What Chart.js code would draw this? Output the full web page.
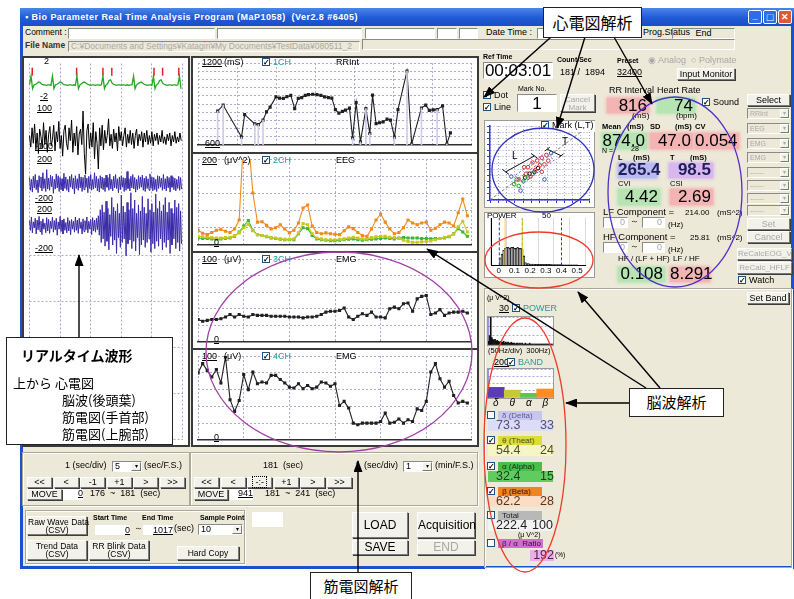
<!DOCTYPE html>
<html>
<head>
<meta charset="utf-8">
<script src="https://cdn.jsdelivr.net/npm/chart.js@4.4.1/dist/chart.umd.min.js"></script>
<style>
body{margin:0;width:794px;height:599px;background:#fff;position:relative;overflow:hidden;font-family:"Liberation Sans",Arial,sans-serif;font-size:9px;color:#000}
.a{position:absolute;box-sizing:border-box;white-space:nowrap}
.btn{background:#F3F2EA;border:1px solid;border-color:#fff #7A7A7A #7A7A7A #fff;box-shadow:1px 1px 0 #3C3C3C;text-align:center}
.fld{background:#fff;border:1px solid;border-color:#8A8A8A #fff #fff #8A8A8A}
.sunk{border:1px solid;border-color:#8A8A8A #fff #fff #8A8A8A}
.frame{border:1px solid #ACA899;box-shadow:1px 1px 0 #fff inset,1px 1px 0 #fff}
.gray{color:#A8A8A8}
.ul{text-decoration:underline}
.cb{display:inline-block;width:8px;height:8px;border:1px solid #1C5180;background:#fff;font-size:8px;line-height:8px;text-align:center;vertical-align:-1px;margin-right:3px;font-weight:bold;box-sizing:border-box;overflow:hidden}
.jp{font-family:"Noto Sans CJK JP",sans-serif}
canvas{position:absolute}
</style>
</head>
<body>
<script>
// ---- data ----
// left real-time waveforms (5 s window)
const ecgWave = [0.1,0.85,-0.3,0.05,0.1,0.2,0.3,0.25,0.1,0.05,
  0.05,0,0.05,0.05,0,0.85,-0.3,0.05,0.1,0.2,
  0.3,0.25,0.1,0.05,0.05,0,0.05,0.05,0,0.05,
  0,0.85,-0.3,0.05,0.15,0.25,0.3,0.2,0.1,0.05,
  0,0.05,0.05,0,0.05,0.05,0,0.05,0.85,-0.3,
  0.05,0.15,0.45,0.5,0.2,0.1,0.05,0,0.05,0.05,
  0,0.05,0.05,0,0.05,0,0.05,0.05,0.85,-0.3,
  0.05,0.15,0.25,0.3,0.2,0.1,0.05,0,0.05,0.05,
  0,0.85,-0.3,0.05,0.15,0.45,0.5,0.2,0.1,0.05,
  0,0.05,0.05,0,0.05,0.05,0,0.05,0.85,-0.3];
const ecgMarkTime = [0.09,1.54,2.4,2.69,4.07,4.35,4.88];
const ecgMarkLevel = [1.25,1.25,1.25,1.25,1.25,1.25,1.25];
const eegWave = [-10,-55,20,-40,35,-65,0,-80,15,-15,-60,40,-45,10,-75,-5,25,-50,-25,30,
  -70,5,-35,45,-60,-10,-90,10,30,-40,-65,20,-30,50,-75,0,-50,25,-85,-5,
  15,-45,85,-80,-160,10,35,-60,0,-55,40,-100,5,-40,-140,20,-50,30,-65,10,
  -40,-10,55,-50,-5,-60,15,-35,0,-70,25,-30,5,-50,-10,20,-55,-5,-40,10,
  -45,0,-60,-10,15,-50,-5,-30,5,-55,0,-35,10,-45,-10,-40,5,-50,-5,-30,
  0,-45,-10,-35,10,-40,-15,-45,-5,-30,0,-50,-10,-35,5,-40,-15,-35,0,-30];
const emgWristWave = [45,-60,30,-75,55,-40,70,-55,25,-80,60,-35,50,-65,85,-45,35,-70,110,-50,
  40,-60,65,-30,55,-85,30,-50,75,-40,60,-70,45,-55,35,-65,80,-45,50,-60,
  30,-75,55,-35,70,-50,40,-90,60,-45,35,-60,75,-40,50,-70,45,-55,65,-35,
  40,-80,55,-45,70,-60,30,-50,85,-40,55,-65,35,-75,60,-45,50,-55,40,-70,
  65,-35,45,-60,75,-50,30,-65,55,-40,70,-45,35,-80,50,-55,60,-35,45,-70,
  40,-60,95,-45,35,-65,55,-40,70,-50,45,-75,30,-55,60,-45,50,-35,65,-60,
  40,-70,55,-45,35,-60,75,-40,50,-65,45,-55,30,-70,60,-45,55,-35,40,-60,
  70,-50,35,-65,55,-40,45,-75,60,-35,50,-55,40,-65,30,-45,55,-60,45,-50];
const emgArmWave = [90,10,120,-10,80,30,110,-20,95,15,125,0,85,-25,105,20,70,-10,115,5,
  100,-15,85,25,120,-5,90,15,110,-30,80,20,125,0,95,-20,105,10,75,-10,
  115,5,90,-25,100,20,85,-5,120,10,95,-15,110,25,80,-20,105,0,90,15,
  120,-10,85,20,100,-25,115,5,95,-5,110,15,130,-30,180,-90,220,-60,160,-120,
  250,-80,190,-150,140,-40,280,-110,200,-70,170,-180,230,-50,150,-130,300,-90,210,-60,
  160,-200,240,-100,180,-70,320,-140,190,-80,260,-160,150,-50,220,-190,170,-110,290,-70,
  200,-130,150,-90,270,-60,180,-170,230,-100,160,-140,310,-80,190,-120,250,-60,170,-150,
  220,-90,280,-130,160,-70,240,-180,190,-110,150,-60,260,-140,200,-90,230,-160,170,-100];

// trend window 181-241 s (x in seconds from 181)
const rrTime = [0,1.4,6.1,6.9,9.5,10.4,11.6,12.5,13.4,14.9,15.8,16.8,17.7,18.7,19.7,20.6,21.5,22.4,23.2,24.3,
  25.4,26.4,27.3,28.3,29.2,30.1,31.0,31.9,32.7,33.7,34.5,35.4,36.5,37.9,38.9,39.6,40.5,41.4,42.3,43.3,
  44.2,45.2,46.1,48.4,49.6,52.1,53.2,54.1,55.1,56.1,57.5,58.6,59.5];
const rrInterval = [848,892,657,822,754,749,782,842,877,952,943,941,954,963,866,941,947,963,969,971,
  969,963,952,947,943,859,833,846,855,870,650,910,622,866,683,965,756,763,769,789,
  782,657,859,1141,607,870,892,853,857,859,886,607,688];
const rrBlinkIndex = [0,1,2,4,5,6,30,32,33,34,41,43,44,45,49,51];
const eegBeta = [34,27,24,29,34,36,32,29,37,58,260,250,121,53,54,46,37,40,47,37,
  28,34,51,86,93,44,29,26,28,26,25,24,33,42,38,29,22,20,37,58,
  72,53,37,26,29,40,58,51,47,51,53,34,39,47,53,51,44,75,107,68];
const eegTheta = [20,19,18,17,16,16,17,18,22,28,40,48,33,24,22,20,17,16,14,13,
  13,14,28,50,47,26,16,14,12,12,12,13,14,16,18,16,14,14,17,19,
  20,20,18,17,15,11,8,6,6,7,8,9,12,15,18,20,25,42,55,30];
const eegAlpha = [16,15,15,14,13,14,15,16,20,30,44,57,34,24,22,19,16,15,13,12,
  12,12,26,40,38,22,14,12,11,10,10,11,12,13,14,12,11,12,13,14,
  15,16,15,14,16,17,16,16,16,15,15,14,15,15,16,19,26,38,30,20];
const emgCh3 = [27,25,26,27,27,28,30,33,30,33,31,30,33,32,32,32,31,31,31,31,
  30,30,30,29,30,30,31,33,36,37,37,38,41,30,27,31,34,32,36,30,
  30,29,40,42,40,46,47,37,52,55,56,33,35,39,32,35,36,36,37,35];
const emgCh4 = [80,91,83,75,84,68,99,48,34,47,78,60,81,67,69,68,77,77,72,68,
  63,62,67,61,65,61,63,69,68,64,67,41,46,38,20,18,20,20,20,20,
  22,32,20,21,25,20,24,22,37,35,46,81,91,73,63,70,53,44,46,44];

// Lorenz plot (RR n, RR n+1) in ms
const lorenzRedX = [830,858,886,914,930,874,902,818,942,846,774,914,953,807];
const lorenzRedY = [866,904,919,942,889,843,881,813,965,790,767,828,919,866];
const lorenzGreenX = [746,774,802,830,858,762];
const lorenzGreenY = [729,714,752,782,813,767];
const lorenzBlueX = [729,970,785,930];
const lorenzBlueY = [790,980,676,767];
const lorenzBlackX = [841,869,813,891];
const lorenzBlackY = [813,828,782,858];
const identityLine = [600,1200];
const spreadBoxX = [806,990,934,750,806];
const spreadBoxY = [740,924,980,796,740];
const ltMarkX = [695,869,null,675,715,null,849,889,null,947,1031,null,932,962,null,1016,1046];
const ltMarkY = [828,957,null,848,808,null,977,937,null,1012,959,null,997,1027,null,944,974];

// HRV power spectrum
const hrvFreq = [0.01,0.02,0.03,0.04,0.05,0.06,0.07,0.08,0.09,0.10,0.11,0.12,0.13,0.14,0.15,0.16,0.17,0.18,0.19,0.20,
  0.21,0.22,0.23,0.24,0.25,0.26,0.27,0.28,0.29,0.30,0.31,0.32,0.33,0.34,0.35,0.36,0.37,0.38,0.39,0.40,
  0.41,0.42,0.43,0.44,0.45,0.46,0.47,0.48,0.49,0.50];
const hrvPower = [8,12,16,18,19,19,18,19,19,18,18,19,18,18,17,10,3,2,2,1.5,
  1.5,1.5,1.2,1.2,1.2,1,1,1,1,1,1,1,1,0.8,0.8,0.8,0.8,0.8,0.8,0.8,
  0.7,0.7,0.7,0.7,0.7,0.7,0.7,0.7,0.7,0.7];
const lfBandEdges = [0.04,0.15];
const hfBandEdges = [0.003,0.15,0.4];

// EEG spectrum 0-300 Hz, 5 Hz bins
const eegSpectrum = [4,10,30,8,6,5,6,4,5,4,3,4,3,3,4,2,3,2,3,2,2,3,2,2,2,1,2,2,1,2,
  1,2,1,1,2,1,1,1,2,1,1,1,1,1,1,1,1,1,1,1,1,1,1,1,1,1,1,1,1,1];

// EEG bands
const bandNames = ["δ","θ","α","β"];
const bandPower = [73.3,54.4,32.4,62.2];
const bandColors = ["#5A3CB4","#C8C832","#55CC44","#FF8C1E"];

// ---- helpers ----
function put(x, y, w, h, cls, html, css) {
  const d = document.createElement("div");
  d.className = "a " + (cls || "");
  let s = `left:${x}px;top:${y}px;`;
  if (w) s += `width:${w}px;`;
  if (h) s += `height:${h}px;line-height:${h - 2}px;`;
  d.style.cssText = s + (css || "");
  if (html) d.innerHTML = html;
  document.body.appendChild(d);
  return d;
}
const cb = on => `<span class="cb">${on ? "✓" : ""}</span>`;
function vbox(x, y, w, h, bg, text, css) {
  return put(x, y, w, h, "", text, `background:${bg};box-shadow:0 0 3px 1px ${bg};text-align:right;padding-right:2px;` + (css || ""));
}
function makeCanvas(x, y, w, h) {
  const c = document.createElement("canvas");
  c.width = w; c.height = h;
  c.style.cssText = `left:${x}px;top:${y}px;width:${w}px;height:${h}px`;
  document.body.appendChild(c);
  return c.getContext("2d");
}
const gridColor = "#A9A9D6";
function plainScale(min, max, step, showGrid) {
  return {
    type: "linear", min, max,
    ticks: { display: false, stepSize: step },
    grid: { display: showGrid, color: gridColor, drawTicks: false },
    border: { display: false, dash: [2, 2] }
  };
}
function baseOptions(scales) {
  return {
    responsive: false,
    animation: false,
    layout: { padding: 0 },
    plugins: { legend: { display: false }, tooltip: { enabled: false } },
    scales
  };
}
const xy = (xs, ys) => xs.map((v, i) => ({ x: v, y: ys[i] }));
const seq = (arr, step) => arr.map((v, i) => ({ x: i * step, y: v }));

// ---- window chrome ----
put(20, 8, 774, 561, "", "", "background:#ECE9D8;border:3px solid #1B50D0;border-top:none");
put(20, 8, 774, 18, "", "&#9642; Bio Parameter Real Time Analysis Program (MaP1058) &nbsp;(Ver2.8 #6405)",
  "background:linear-gradient(#4A86EA,#1F5AD6 55%,#1A4EC2);color:#fff;font-weight:bold;font-size:9px;letter-spacing:0.45px;padding-left:5px;line-height:18px");
put(748, 10, 14, 14, "", "_", "background:#2F6BEA;border:1px solid #fff;border-radius:2px;color:#fff;font-weight:bold;text-align:center;line-height:10px");
put(763, 10, 14, 14, "", "&#9633;", "background:#2F6BEA;border:1px solid #fff;border-radius:2px;color:#fff;text-align:center;line-height:12px;font-size:11px");
put(778, 10, 14, 14, "", "&#10005;", "background:#E2582E;border:1px solid #fff;border-radius:2px;color:#fff;font-weight:bold;text-align:center;line-height:12px");

put(25, 28, 0, 11, "", "Comment :", "font-size:8.5px");
put(68, 28, 147, 11, "fld");
put(217, 28, 145, 11, "fld");
put(365, 28, 70, 11, "fld");
put(437, 28, 20, 11, "fld");
put(459, 28, 19, 11, "fld");
put(486, 28, 0, 11, "", "Date Time :");
put(537, 28, 104, 11, "fld");
put(643, 28, 0, 11, "", "Prog.Status");
put(672, 28, 63, 11, "sunk", "End", "text-align:center");
put(25, 41, 0, 11, "", "File Name", "font-weight:bold;color:#333;font-size:8.5px");
put(68, 41, 292, 11, "sunk gray", "C:¥Documents and Settings¥Katagiri¥My Documents¥TestData¥080511_2", "padding-left:2px;overflow:hidden;font-size:8.5px");
put(362, 39, 373, 11, "sunk");

// ---- left real-time waveform panel ----
put(22, 56, 168, 391, "", "", "background:#fff;border:2px solid #3A3A3A");
const waveCtx = makeCanvas(24, 58, 164, 387);
const waveY = (w, min, max, grid) => Object.assign(plainScale(min, max, 1, grid), { position: "right", stack: "wave", stackWeight: w });
new Chart(waveCtx, {
  type: "line",
  data: {
    datasets: [
      { data: seq(ecgWave, 0.05), yAxisID: "yEcg", borderColor: "#22A822", borderWidth: 1.3, pointRadius: 0, clip: false },
      { type: "scatter", data: xy(ecgMarkTime, ecgMarkLevel), yAxisID: "yEcg", pointStyle: "line", rotation: 90, radius: 4, borderColor: "#E02020", borderWidth: 1.5, clip: false },
      { data: seq(eegWave, 5 / 120), yAxisID: "yEeg", borderColor: "#000", borderWidth: 1, pointRadius: 0, clip: false },
      { data: seq(emgWristWave, 5 / 160), yAxisID: "yEmg1", borderColor: "#3A2AA8", borderWidth: 1, pointRadius: 0, clip: false },
      { data: seq(emgArmWave, 5 / 160), yAxisID: "yEmg2", borderColor: "#3A2AA8", borderWidth: 1, pointRadius: 0, clip: false }
    ]
  },
  options: baseOptions({
    x: plainScale(0, 5, 1, true),
    yEcg: waveY(45, -2, 2, false),
    yEeg: waveY(53, -100, 100, false),
    yEmg1: waveY(50, -200, 200, false),
    yEmg2: waveY(50, -200, 200, false),
    yRest: waveY(189, 0, 4, true)
  })
});
put(44, 57, 0, 11, "", "2");
put(40, 92, 0, 11, "ul", "-2");
put(37, 104, 0, 11, "ul", "100");
put(35, 142, 0, 11, "ul", "-100");
put(37, 155, 0, 11, "ul", "200");
put(35, 194, 0, 11, "ul", "-200");
put(37, 205, 0, 11, "ul", "200");
put(35, 244, 0, 11, "ul", "-200");

// ---- trend panel (181-241 s) ----
put(191, 56, 288, 391, "", "", "background:#fff;border:2px solid #3A3A3A");
function trendChart(x, y, w, h, datasets, yMin, yMax, yStep) {
  const ctx = makeCanvas(x, y, w, h);
  const scales = {
    x: plainScale(0, 60, 10, true),
    y: plainScale(yMin, yMax, yStep, true)
  };
  scales.x.border = { display: true, color: "#303030", width: 1.5, dash: [2, 2] };
  return new Chart(ctx, { type: "line", data: { datasets }, options: baseOptions(scales) });
}
const dotLine = (data, color) => ({
  data, borderColor: color, backgroundColor: color, borderWidth: 1.1,
  pointStyle: "rect", pointRadius: 1.4, tension: 0
});
trendChart(193, 58, 284, 92, [
  { type: "bar", data: rrBlinkIndex.map(i => ({ x: rrTime[i], y: rrInterval[i] })), backgroundColor: "#CDCDEB", barThickness: 1 },
  dotLine(xy(rrTime, rrInterval), "#202020")
], 600, 1200, 60);
trendChart(193, 154, 284, 96, [
  dotLine(seq(eegBeta, 1), "#F08A1C"),
  dotLine(seq(eegTheta, 1), "#C8C820"),
  dotLine(seq(eegAlpha, 1), "#3CB43C")
], 0, 200, 40);
trendChart(193, 254, 284, 93, [dotLine(seq(emgCh3, 1), "#202020")], 0, 100, 20);
trendChart(193, 351, 284, 94, [dotLine(seq(emgCh4, 1), "#202020")], 0, 100, 20);
put(193, 152, 284, 2, "", "", "background:#3A3A3A");
put(193, 251, 284, 2, "", "", "background:#3A3A3A");
put(193, 348, 284, 2, "", "", "background:#3A3A3A");
const heads = [[58, "1200", "(mS)", "1CH", "RRInt", 139, "600"], [156, "200", "(μV^2)", "2CH", "EEG", 238, "0"],
  [255, "100", "(μV)", "3CH", "EMG", 335, "0"], [352, "100", "(μV)", "4CH", "EMG", 433, "0"]];
heads.forEach(h => {
  put(202, h[0], 0, 11, "ul", h[1]);
  put(224, h[0], 0, 11, "", h[2]);
  put(262, h[0], 0, 11, "", cb(true) + `<span style="color:#2A9A9A">${h[3]}</span>`);
  put(336, h[0], 0, 11, "", h[4]);
  put(h[6] === "0" ? 214 : 205, h[5], 0, 11, "ul", h[6]);
});

// ---- right top ----
put(483, 53, 0, 9, "", "Ref Time", "font-size:7px;font-weight:bold");
put(483, 62, 70, 17, "fld", "00:03:01", "font-size:17px;text-align:center;line-height:16px");
put(557, 56, 0, 9, "", "Count/Sec", "font-size:7px;font-weight:bold");
put(560, 68, 0, 11, "", "181 / &nbsp;1894");
put(617, 57, 0, 9, "", "Preset", "font-size:7px;font-weight:bold");
put(617, 68, 0, 11, "ul", "32400");
put(648, 56, 0, 11, "gray", "&#9673; Analog &nbsp;&#9675; Polymate");
put(677, 68, 58, 12, "btn", "Input Monitor");
put(483, 91, 0, 11, "", cb(true) + "Dot");
put(483, 103, 0, 11, "", cb(true) + "Line");
put(518, 85, 0, 9, "", "Mark No.", "font-size:7px");
put(517, 94, 40, 18, "fld", "1", "font-size:17px;text-align:center;line-height:17px");
put(560, 94, 35, 18, "btn gray", "Cancel<br>Mark", "line-height:8px;padding-top:1px;font-size:8px");

// Lorenz plot
put(484, 120, 111, 88, "", "", "background:#fff;border:1px solid #9A9A9A");
const lorenzCtx = makeCanvas(485, 121, 109, 84);
const lzAxis = (pos) => ({
  type: "linear", min: 600, max: 1200, position: pos,
  ticks: { display: false, stepSize: 50 },
  grid: { color: "#A4A4CC", drawTicks: true, tickLength: 3, tickColor: "#3434C8" },
  border: { display: true, color: "#3434C8", width: 1.5, dash: [1, 2] }
});
const lzDots = (xs, ys, color) => ({ type: "scatter", data: xy(xs, ys), borderColor: color, backgroundColor: "transparent", pointRadius: 1.8, borderWidth: 1 });
new Chart(lorenzCtx, {
  type: "scatter",
  data: {
    datasets: [
      { type: "line", data: xy(identityLine, identityLine), borderColor: "#7A7A7A", borderDash: [3, 2], borderWidth: 1, pointRadius: 0 },
      { type: "line", data: xy(spreadBoxX, spreadBoxY), borderColor: "#5A6AD8", borderDash: [2, 2], borderWidth: 1, pointRadius: 0 },
      lzDots(lorenzRedX, lorenzRedY, "#E03030"),
      lzDots(lorenzGreenX, lorenzGreenY, "#20A020"),
      lzDots(lorenzBlueX, lorenzBlueY, "#3050D0"),
      lzDots(lorenzBlackX, lorenzBlackY, "#000"),
      { type: "line", data: xy(ltMarkX, ltMarkY), borderColor: "#111", borderWidth: 1, pointRadius: 0, spanGaps: false }
    ]
  },
  options: Object.assign(baseOptions({ x: lzAxis("bottom"), y: lzAxis("left") }), { layout: { padding: { left: 0, top: 2, right: 1, bottom: 0 } } })
});
put(540, 121, 0, 11, "", cb(true) + "Mark (L,T)", "background:#fff;padding:0 1px");
put(512, 151, 0, 11, "", "L", "font-size:10px");
put(562, 137, 0, 11, "", "T", "font-size:10px");

// HRV power spectrum
put(484, 212, 111, 66, "", "", "background:#fff;border:1px solid #9A9A9A");
const hrvCtx = makeCanvas(485, 213, 109, 64);
const edgeLine = (f, color, dash) => ({ type: "line", data: [{ x: f, y: 0 }, { x: f, y: 50 }], borderColor: color, borderDash: dash, borderWidth: 1, pointRadius: 0 });
new Chart(hrvCtx, {
  type: "bar",
  data: {
    datasets: [
      ...lfBandEdges.map(f => edgeLine(f, "#E8D030", [])),
      ...hfBandEdges.map(f => edgeLine(f, "#3434C8", [3, 2])),
      { data: xy(hrvFreq, hrvPower), backgroundColor: "#A8A8A8", borderColor: "#111", borderWidth: 0.8, barPercentage: 1, categoryPercentage: 1 }
    ]
  },
  options: Object.assign(baseOptions({
    x: { type: "linear", min: 0, max: 0.5,
         ticks: { stepSize: 0.1, autoSkip: false, maxRotation: 0, minRotation: 0, font: { size: 8, family: "Liberation Sans" }, color: "#000", padding: 1 },
         grid: { color: "#DADADA", drawTicks: false }, border: { display: true, color: "#000" } },
    y: { min: 0, max: 50, ticks: { display: false }, grid: { display: false, drawTicks: false }, border: { display: true, color: "#000" } }
  }), { layout: { padding: { left: 6, right: 9, top: 5, bottom: 0 } } })
});
put(487, 212, 0, 10, "", "POWER", "font-size:8px;letter-spacing:-0.2px");
put(542, 212, 0, 10, "", "50", "font-size:8px");

// HRV statistics
put(609, 86, 0, 10, "", "RR Interval");
put(657, 86, 0, 10, "", "Heart Rate");
vbox(607, 98, 42, 15, "#F4B4B4", "816", "font-size:17px;line-height:15px");
vbox(657, 98, 38, 15, "#B6E4B2", "74", "font-size:17px;line-height:15px");
put(702, 98, 0, 11, "", cb(true) + "Sound");
put(632, 112, 0, 9, "", "(mS)", "font-size:8px");
put(676, 112, 0, 9, "", "(bpm)", "font-size:8px");
[[602, "Mean"], [627, "(mS)"], [650, "SD"], [675, "(mS)"], [695, "CV"]].forEach(t => put(t[0], 123, 0, 9, "", t[1], "font-size:7.5px;font-weight:bold"));
vbox(602, 133, 45, 16, "#B6E4B2", "874.0", "font-size:17px;line-height:15px");
vbox(650, 133, 43, 16, "#F4B4B4", "47.0", "font-size:17px;line-height:15px");
vbox(695, 133, 44, 16, "#F4B4B4", "0.054", "font-size:17px;line-height:15px");
put(602, 147, 0, 9, "", "N =", "font-size:7px");
put(631, 145, 0, 9, "", "28", "font-size:7px");
[[618, "L"], [633, "(mS)"], [670, "T"], [690, "(mS)"]].forEach(t => put(t[0], 154, 0, 9, "", t[1], "font-size:7.5px;font-weight:bold"));
vbox(618, 163, 39, 15, "#BABAF0", "265.4", "font-size:17px;line-height:14px;font-weight:bold;color:#1E1E5A");
vbox(669, 163, 44, 15, "#D8B6EE", "98.5", "font-size:17px;line-height:14px;font-weight:bold;color:#1E1E5A");
put(618, 180, 0, 9, "", "CVI", "font-size:7.5px");
put(670, 180, 0, 9, "", "CSI", "font-size:7.5px");
vbox(618, 189, 42, 16, "#B6E4B2", "4.42", "font-size:17px;line-height:15px");
vbox(670, 189, 43, 16, "#F4B4B4", "2.69", "font-size:17px;line-height:15px");
[[208, "LF Component =", "214.00", 217, 221], [233, "HF Component =", "25.81", 242, 246]].forEach(r => {
  put(603, r[0], 0, 10, "", r[1], "font-size:9.5px");
  put(r[2] === "214.00" ? 685 : 690, r[0] + 1, 0, 10, "", r[2], "font-size:8px");
  put(717, r[0] + 1, 0, 10, "", "(mS^2)", "font-size:8px");
  put(603, r[3], 25, 11, "fld gray", "0", "text-align:right;padding-right:2px");
  put(630, r[3], 0, 11, "", "～", "font-size:9px");
  put(642, r[3], 23, 11, "fld gray", "0", "text-align:right;padding-right:2px");
  put(668, r[4], 0, 10, "", "(Hz)", "font-size:8px");
});
put(618, 255, 0, 9, "", "HF / (LF + HF)", "font-size:8px");
put(673, 255, 0, 9, "", "LF / HF", "font-size:8px");
vbox(618, 267, 47, 15, "#B6E4B2", "0.108", "font-size:17px;line-height:14px");
vbox(670, 267, 40, 15, "#F4B4B4", "8.291", "font-size:17px;line-height:14px");

// select column
put(747, 94, 43, 12, "btn", "Select");
["RRInt", "EEG", "EMG", "EMG", "------", "------", "------", "------"].forEach((s, i) => {
  const y = [108, 123, 138, 152, 167, 180, 193, 205][i];
  put(747, y, 43, 11, "sunk gray", s, "padding-left:2px;font-size:7px;background:#ECE9D8");
  put(780, y + 1, 9, 9, "btn gray", "&#9662;", "font-size:6px;line-height:7px;box-shadow:none");
});
put(747, 218, 43, 12, "btn gray", "Set");
put(747, 231, 43, 12, "btn gray", "Cancel");
put(737, 248, 55, 12, "btn gray", "ReCalcEOG_V", "font-size:8px");
put(737, 262, 55, 12, "btn gray", "ReCalc_HFLF", "font-size:8px");
put(738, 276, 0, 11, "", cb(true) + "Watch");
put(747, 292, 42, 12, "btn", "Set Band");

// ---- EEG analysis group ----
put(484, 288, 308, 280, "frame");
put(487, 294, 0, 9, "", "(μ V^2)", "font-size:7px");
put(499, 304, 0, 10, "ul", "30");
put(512, 304, 0, 10, "", cb(true) + '<span style="color:#2A9A9A">POWER</span>');
put(487, 316, 67, 30, "", "", "background:#fff;border:1px solid #9A9A9A");
const eegSpecCtx = makeCanvas(488, 317, 65, 28);
new Chart(eegSpecCtx, {
  type: "bar",
  data: { labels: eegSpectrum.map((v, i) => i), datasets: [{ data: eegSpectrum, backgroundColor: "#111", barPercentage: 1, categoryPercentage: 1 }] },
  options: baseOptions({
    x: { ticks: { display: false }, grid: { display: false, drawTicks: false }, border: { display: true, color: "#3434C8", width: 1 } },
    y: Object.assign(plainScale(0, 30, 10, true), { border: { display: true, color: "#3434C8", width: 1.5, dash: [2, 2] } })
  })
});
put(488, 347, 0, 9, "", "(50Hz/div) &nbsp;300Hz)", "font-size:7.5px");
put(494, 358, 0, 10, "ul", "200");
put(507, 358, 0, 10, "", cb(true) + '<span style="color:#2A9A9A">BAND</span>');
put(487, 368, 67, 31, "", "", "background:#fff;border:1px solid #9A9A9A");
const bandCtx = makeCanvas(488, 369, 65, 29);
new Chart(bandCtx, {
  type: "bar",
  data: { labels: bandNames, datasets: [{ data: bandPower, backgroundColor: bandColors, barPercentage: 1, categoryPercentage: 1 }] },
  options: baseOptions({
    x: { ticks: { display: false }, grid: { display: false, drawTicks: false }, border: { display: false } },
    y: Object.assign(plainScale(0, 200, 50, true), { border: { display: true, color: "#3434C8", width: 1.5, dash: [2, 2] } })
  })
});
bandNames.forEach((n, i) => put(493 + i * 16.5, 398, 0, 11, "", n, "font-style:italic;font-size:10px"));
const bandRows = [
  [411, false, "δ (Delta)", "#C6C6EE", "#5A5A9A", "73.3", "33", "#DCDCF6", "#50507A"],
  [436, true, "θ (Theat)", "#DCDC3C", "#505010", "54.4", "24", "#F6F6C4", "#505020"],
  [462, true, "α (Alpha)", "#48C048", "#103010", "32.4", "15", "#60CC60", "#1A401A"],
  [487, true, "β (Beta)", "#F08424", "#301800", "62.2", "28", "#FCDCC4", "#503820"],
  [511, false, "Total", "#B8B8B8", "#202020", "222.4", "100", "#F2F2F2", "#202020"]
];
bandRows.forEach(r => {
  put(487, r[0], 0, 9, "", cb(r[1]));
  put(498, r[0], 44, 9, "", r[2], `background:${r[3]};color:${r[4]};font-size:8px;line-height:9px;padding-left:4px`);
  put(488, r[0] + 9, 65, 11, "", "", `background:${r[7]}`);
  put(496, r[0] + 8, 0, 12, "", r[5], `font-size:12.5px;color:${r[8]};line-height:12px`);
  put(r[6] === "100" ? 532 : 540, r[0] + 8, 0, 12, "", r[6], `font-size:12.5px;color:${r[8]};line-height:12px`);
});
put(518, 531, 0, 9, "", "(μ V^2)", "font-size:7px");
put(487, 539, 0, 9, "", cb(false));
put(498, 539, 45, 9, "", "β / α &nbsp;Ratio", "background:#D46AD4;color:#3A0A3A;font-size:8px;line-height:9px;padding-left:4px");
put(530, 550, 24, 11, "", "192", "background:#EBB0EB;font-size:12.5px;text-align:right;line-height:11px;color:#502050");
put(555, 552, 0, 8, "", "(%)", "font-size:6.5px");

// ---- bottom control area ----
put(22, 452, 168, 54, "frame");
put(190, 452, 288, 54, "frame");
put(25, 510, 220, 54, "frame");
put(65, 461, 0, 11, "", "1 (sec/div)");
put(112, 461, 30, 11, "fld", "5", "padding-left:2px");
put(131, 462, 10, 9, "btn", "&#9662;", "font-size:6px;line-height:7px;box-shadow:none");
put(144, 461, 0, 11, "", "(sec/F.S.)");
["<<", "<", "-1", "+1", ">", ">>"].forEach((s, i) => put(27 + i * 26.6, 477, 25, 11, "btn", s));
put(27, 489, 35, 11, "btn", "MOVE");
put(63, 489, 20, 11, "", "0", "text-align:right;text-decoration:underline;background:#fff");
put(90, 489, 0, 11, "", "176 &nbsp;~ &nbsp;181 &nbsp;(sec)");
put(263, 461, 0, 11, "", "181 &nbsp;(sec)");
put(355, 461, 0, 11, "", "1");
put(364, 461, 0, 11, "", "(sec/div)");
put(403, 461, 30, 11, "fld", "1", "padding-left:2px");
put(422, 462, 10, 9, "btn", "&#9662;", "font-size:6px;line-height:7px;box-shadow:none");
put(435, 461, 0, 11, "", "(min/F.S.)");
["<<", "<", '<span style="border:1px dotted #000;padding:0 2px">-:-</span>', "+1", ">", ">>"].forEach((s, i) => put(194 + i * 26.6, 477, 25, 11, "btn", s));
put(194, 489, 34, 11, "btn", "MOVE");
put(230, 489, 23, 11, "", "941", "text-align:right;text-decoration:underline;background:#fff");
put(265, 489, 0, 11, "", "181 &nbsp;~ &nbsp;241 &nbsp;(sec)");
put(27, 516, 60, 19, "btn", "Raw Wave Data<br>(CSV)", "line-height:8px;padding-top:1px;font-size:8.5px");
put(93, 514, 0, 9, "", "Start Time", "font-size:7px;font-weight:bold");
put(142, 514, 0, 9, "", "End Time", "font-size:7px;font-weight:bold");
put(200, 514, 0, 9, "", "Sample Point", "font-size:7px;font-weight:bold");
put(95, 525, 35, 10, "", "0", "background:#fff;text-align:right;text-decoration:underline;line-height:10px");
put(134, 524, 0, 10, "", "～");
put(143, 525, 30, 10, "", "1017", "background:#fff;text-align:right;text-decoration:underline;line-height:10px");
put(174, 524, 0, 11, "", "(sec)");
put(198, 524, 45, 11, "fld", "10", "padding-left:2px");
put(232, 525, 10, 9, "btn", "&#9662;", "font-size:6px;line-height:7px;box-shadow:none");
put(27, 540, 60, 20, "btn", "Trend Data<br>(CSV)", "line-height:8px;padding-top:1px;font-size:8.5px");
put(89, 540, 60, 20, "btn", "RR Blink Data<br>(CSV)", "line-height:8px;padding-top:1px;font-size:8.5px");
put(177, 546, 62, 14, "btn", "Hard Copy", "font-size:8.5px");
put(252, 512, 31, 15, "", "", "background:#fff");
put(352, 512, 56, 26, "btn", "LOAD", "font-size:12px;line-height:24px");
put(417, 512, 58, 26, "btn", "Acquisition", "font-size:12px;line-height:24px");
put(352, 540, 56, 15, "btn", "SAVE", "font-size:12px;line-height:13px");
put(417, 540, 58, 15, "btn gray", "END", "font-size:12px;line-height:13px");

// ---- annotations ----
const svgNS = "http://www.w3.org/2000/svg";
const svg = document.createElementNS(svgNS, "svg");
svg.setAttribute("width", 794); svg.setAttribute("height", 599);
svg.setAttribute("class", "a"); svg.style.left = "0px"; svg.style.top = "0px";
svg.innerHTML = `<defs><marker id="ah" markerWidth="12" markerHeight="9" refX="11" refY="4.5" orient="auto" markerUnits="userSpaceOnUse"><path d="M0,0 L12,4.5 L0,9 z" fill="#000"/></marker></defs>
<ellipse cx="339" cy="352" rx="133" ry="100" fill="none" stroke="#A040A8" stroke-width="1.3"/>
<ellipse cx="543" cy="170" rx="51" ry="42" fill="none" stroke="#3030B8" stroke-width="1.3"/>
<ellipse cx="539" cy="260" rx="54" ry="28" fill="none" stroke="#F03A2A" stroke-width="1.3"/>
<ellipse cx="675" cy="192" rx="67" ry="95" fill="none" stroke="#5030C8" stroke-width="1.3"/>
<ellipse cx="525" cy="445" rx="41" ry="127" fill="none" stroke="#F03A2A" stroke-width="1.3"/>
<line x1="551" y1="37" x2="484" y2="97" stroke="#000" stroke-width="1.4" marker-end="url(#ah)"/>
<line x1="585" y1="37" x2="557" y2="128" stroke="#000" stroke-width="1.4" marker-end="url(#ah)"/>
<line x1="614" y1="37" x2="652" y2="104" stroke="#000" stroke-width="1.4" marker-end="url(#ah)"/>
<line x1="660" y1="388" x2="578" y2="292" stroke="#000" stroke-width="1.4" marker-end="url(#ah)"/>
<line x1="646" y1="388" x2="427" y2="249" stroke="#000" stroke-width="1.4" marker-end="url(#ah)"/>
<line x1="629" y1="403" x2="566" y2="403" stroke="#000" stroke-width="1.4" marker-end="url(#ah)"/>
<line x1="79" y1="337" x2="79" y2="255" stroke="#000" stroke-width="1.4" marker-end="url(#ah)"/>
<line x1="358" y1="572" x2="358" y2="461" stroke="#000" stroke-width="1.4" marker-end="url(#ah)"/>`;
document.body.appendChild(svg);
const callout = "background:#fff;border:1.5px solid #222;text-align:center;font-family:'Noto Sans CJK JP',sans-serif;";
put(543, 7, 99, 31, "", "心電図解析", callout + "font-size:16px;line-height:28px");
put(629, 388, 95, 29, "", "脳波解析", callout + "font-size:15px;line-height:26px");
put(310, 572, 102, 29, "", "筋電図解析", callout + "font-size:15px;line-height:26px");
put(6, 337, 167, 108, "", "", "background:#fff;border:1.5px solid #222");
put(21, 346, 0, 20, "jp", "リアルタイム波形", "font-size:14px;font-weight:bold");
put(13, 375, 0, 18, "jp", "上から 心電図", "font-size:13px");
put(62, 392, 0, 18, "jp", "脳波(後頭葉)", "font-size:13px");
put(62, 409, 0, 18, "jp", "筋電図(手首部)", "font-size:13px");
put(62, 426, 0, 18, "jp", "筋電図(上腕部)", "font-size:13px");
</script>
</body>
</html>
